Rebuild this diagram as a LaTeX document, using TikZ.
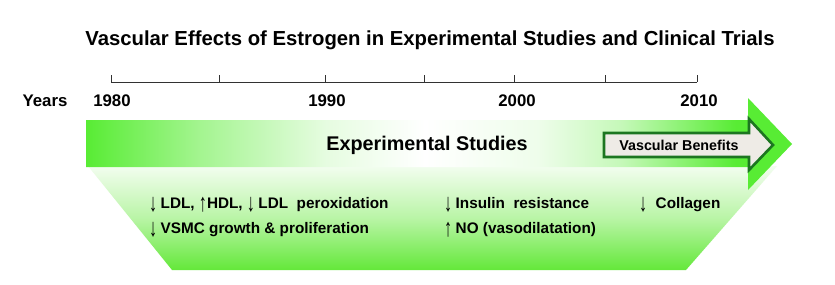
\documentclass[tikz,border=0pt]{standalone}
\usepackage{fontspec}
\setmainfont{Liberation Sans}
\definecolor{gA}{RGB}{88,236,52}
\definecolor{gB}{RGB}{100,232,58}
\definecolor{vbline}{RGB}{28,118,32}
\definecolor{vbfill}{RGB}{238,235,230}
\definecolor{axc}{RGB}{50,50,50}
\pgfdeclarehorizontalshading{bandshade}{100bp}{color(0bp)=(gA); color(25bp)=(gA); color(33bp)=(gA!55!white); color(42bp)=(gA!15!white); color(49bp)=(white); color(57bp)=(gA!10!white); color(63bp)=(gA!35!white); color(71bp)=(gA); color(75bp)=(gA); color(100bp)=(gA)}
\tikzset{
  titlet/.style={font=\bfseries\fontsize{20.3}{22}\selectfont, inner sep=0pt},
  yeart/.style={font=\bfseries\fontsize{16.8}{18}\selectfont, inner sep=0pt},
  bigt/.style={font=\bfseries\fontsize{19.8}{22}\selectfont, inner sep=0pt},
  vbt/.style={font=\bfseries\fontsize{14.3}{15}\selectfont, inner sep=0pt},
  effect/.style={font=\bfseries\fontsize{15.3}{17}\selectfont, inner sep=0pt, anchor=base west},
  axisline/.style={draw=axc, line width=1pt},
}
\newcommand{\dn}{\raisebox{-3.2pt}{\scalebox{1.05}[1.65]{\mdseries\char"2193}}}
\newcommand{\up}{\raisebox{-3.2pt}{\scalebox{1.05}[1.65]{\mdseries\char"2191}}}
\newcommand{\gp}{\hspace{3.5pt}}
\begin{document}
\begin{tikzpicture}[x=1pt,y=-1pt]
\useasboundingbox[fill=white] (0,0) rectangle (835,284);
% title
\node[titlet] (title) at (430,40) {Vascular Effects of Estrogen in Experimental Studies and Clinical Trials};
% axis
\coordinate (a0) at (111,82);
\coordinate (a6) at (697,82);
\draw[axisline] (a0) -- (a6);
\foreach \x [count=\i] in {111,219,325,424,514,605,697}
  \draw[axisline] (\x,82) -- (\x,75);
% years
\node[yeart] (years) at (45,101) {Years};
\node[yeart] (y1980) at (112,101) {1980};
\node[yeart] (y1990) at (327,101) {1990};
\node[yeart] (y2000) at (517,101) {2000};
\node[yeart] (y2010) at (699,101) {2010};
% trapezoid
\shade[top color=gB!8!white, bottom color=gB, middle color=gB!45!white]
  (88,166) -- (777,166) -- (686,270) -- (172,270) -- cycle;
% big arrow
\shade[shading=bandshade]
  (86,120) -- (748,120) -- (748,98) -- (792,144) -- (748,190) -- (748,167) -- (86,167) -- cycle;
\node[bigt] (exp) at (427,145) {Experimental Studies};
% vascular benefits arrow
\draw[draw=vbline, fill=vbfill, line width=2.6pt, line join=miter]
  (604,133) -- (749,133) -- (749,119) -- (773,145) -- (749,170) -- (749,157) -- (604,157) -- cycle;
\node[vbt] (vb) at (679,145) {Vascular Benefits};
% effects
\node[effect] (e1) at (149,208) {\dn\gp LDL, \up HDL, \dn\gp LDL\ \ peroxidation};
\node[effect] (e2) at (149,233) {\dn\gp VSMC growth \& proliferation};
\node[effect] (e3) at (444,208) {\dn\gp Insulin\ \ resistance};
\node[effect] (e4) at (444,233) {\up\gp NO (vasodilatation)};
\node[effect] (e5) at (639,208) {\dn\ \ Collagen};
\end{tikzpicture}
\end{document}
